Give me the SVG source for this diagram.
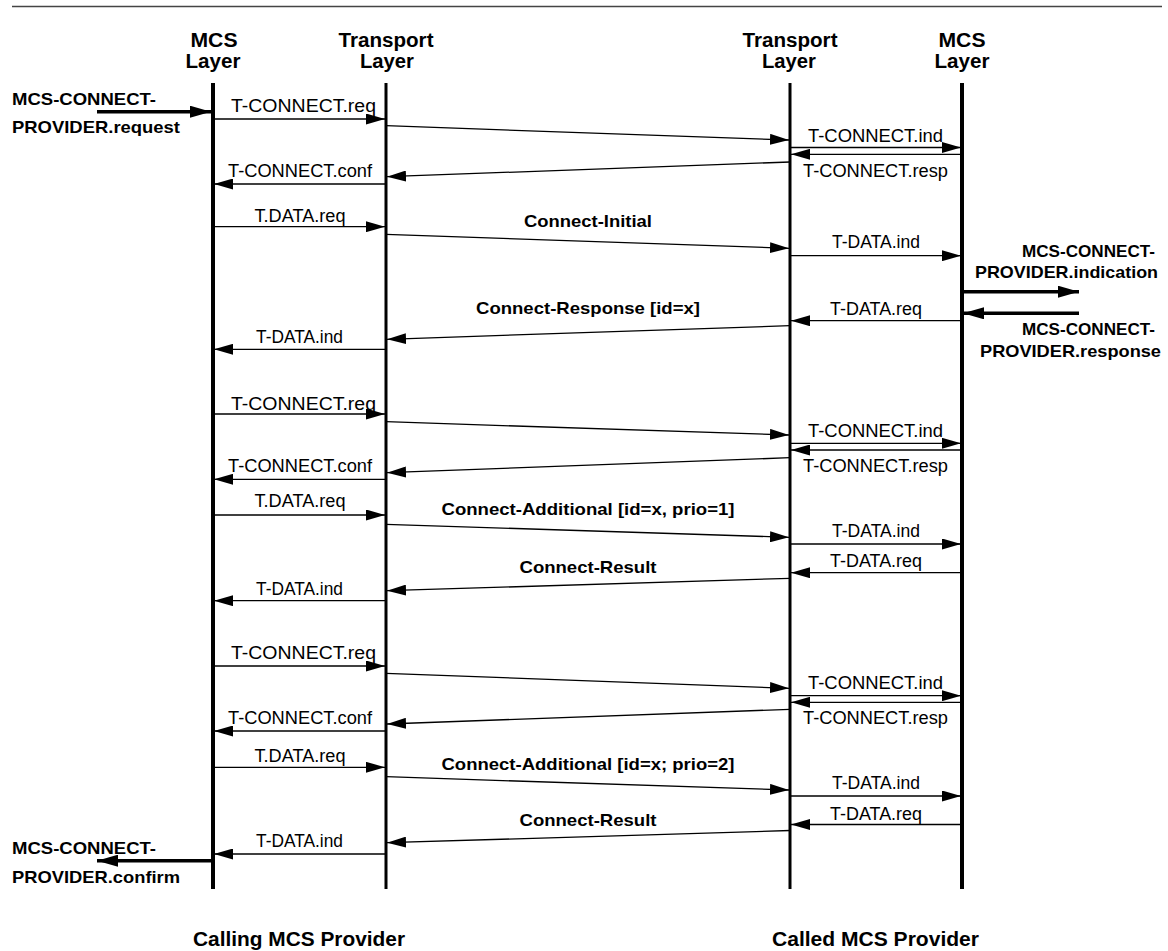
<svg xmlns="http://www.w3.org/2000/svg" width="1168" height="951" viewBox="0 0 1168 951">
<style>
text{font-family:"Liberation Sans",Arial,Helvetica,sans-serif;fill:#000}
.hd{font-size:20px;font-weight:bold;text-anchor:middle}
.lb{font-size:17.5px;text-anchor:middle}
.bm{font-size:17px;font-weight:bold;text-anchor:middle}
.sl{font-size:17px;font-weight:bold}
.sr{font-size:17px;font-weight:bold;text-anchor:end}
.cap{font-size:20px;font-weight:bold;text-anchor:middle}
.life{stroke:#000;fill:none}
.m{stroke:#000;stroke-width:1.3;fill:none;marker-end:url(#ah)}
.t{stroke:#000;stroke-width:3.5;fill:none;marker-end:url(#ahb)}
</style>
<defs>
<marker id="ah" markerUnits="userSpaceOnUse" markerWidth="19" markerHeight="11" refX="19" refY="5.5" orient="auto" viewBox="0 0 19 11"><path d="M0,0 L19,5.5 L0,11 Z" fill="#000"/></marker>
<marker id="ahb" markerUnits="userSpaceOnUse" markerWidth="21" markerHeight="12" refX="21" refY="6" orient="auto" viewBox="0 0 21 12"><path d="M0,0 L21,6 L0,12 Z" fill="#000"/></marker>
</defs>
<rect width="1168" height="951" fill="#fff"/>
<line x1="12" y1="6.5" x2="1162" y2="6.5" stroke="#444" stroke-width="1.6"/>

<g id="calling-mcs">
<text class="hd" x="214" y="47" textLength="47" lengthAdjust="spacingAndGlyphs">MCS</text>
<text class="hd" x="213" y="68" textLength="55" lengthAdjust="spacingAndGlyphs">Layer</text>
<line class="life" x1="213" y1="83" x2="213" y2="889" stroke-width="4"/>
</g>
<g id="calling-transport">
<text class="hd" x="386" y="47" textLength="95" lengthAdjust="spacingAndGlyphs">Transport</text>
<text class="hd" x="387" y="68" textLength="54" lengthAdjust="spacingAndGlyphs">Layer</text>
<line class="life" x1="386" y1="83" x2="386" y2="889" stroke-width="3"/>
</g>
<g id="called-transport">
<text class="hd" x="790" y="47" textLength="95" lengthAdjust="spacingAndGlyphs">Transport</text>
<text class="hd" x="789" y="68" textLength="54" lengthAdjust="spacingAndGlyphs">Layer</text>
<line class="life" x1="790" y1="83" x2="790" y2="889" stroke-width="3"/>
</g>
<g id="called-mcs">
<text class="hd" x="962" y="47" textLength="47" lengthAdjust="spacingAndGlyphs">MCS</text>
<text class="hd" x="962" y="68" textLength="55" lengthAdjust="spacingAndGlyphs">Layer</text>
<line class="life" x1="962" y1="83" x2="962" y2="889" stroke-width="4"/>
</g>

<g id="connectors">
<line class="t" x1="97" y1="111.7" x2="211" y2="111.7"/>
<line class="m" x1="213" y1="119" x2="385" y2="119"/>
<line class="m" x1="386" y1="125.7" x2="789" y2="140"/>
<line class="m" x1="790" y1="147.5" x2="961" y2="147.5"/>
<line class="m" x1="962" y1="154.3" x2="791" y2="154.3"/>
<line class="m" x1="790" y1="162" x2="387" y2="176.7"/>
<line class="m" x1="386" y1="184" x2="214" y2="184"/>
<line class="m" x1="213" y1="226.7" x2="385" y2="226.7"/>
<line class="m" x1="386" y1="234.3" x2="789" y2="248.3"/>
<line class="m" x1="790" y1="255.7" x2="961" y2="255.7"/>
<line class="t" x1="963" y1="291.7" x2="1079" y2="291.7"/>
<line class="t" x1="1079" y1="313.3" x2="963" y2="313.3"/>
<line class="m" x1="962" y1="320.7" x2="791" y2="320.7"/>
<line class="m" x1="790" y1="325.7" x2="387" y2="339.3"/>
<line class="m" x1="386" y1="349.3" x2="214" y2="349.3"/>
<line class="m" x1="213" y1="414" x2="385" y2="414"/>
<line class="m" x1="386" y1="421.7" x2="789" y2="435"/>
<line class="m" x1="790" y1="443.3" x2="961" y2="443.3"/>
<line class="m" x1="962" y1="450" x2="791" y2="450"/>
<line class="m" x1="790" y1="457.7" x2="387" y2="472.7"/>
<line class="m" x1="386" y1="479.3" x2="214" y2="479.3"/>
<line class="m" x1="213" y1="515" x2="385" y2="515"/>
<line class="m" x1="386" y1="524.3" x2="789" y2="537.3"/>
<line class="m" x1="790" y1="544" x2="961" y2="544"/>
<line class="m" x1="962" y1="572.7" x2="791" y2="572.7"/>
<line class="m" x1="790" y1="578.3" x2="387" y2="590.7"/>
<line class="m" x1="386" y1="600.7" x2="214" y2="600.7"/>
<line class="m" x1="213" y1="666" x2="385" y2="666"/>
<line class="m" x1="386" y1="673.3" x2="789" y2="688.3"/>
<line class="m" x1="790" y1="695.7" x2="961" y2="695.7"/>
<line class="m" x1="962" y1="702.3" x2="791" y2="702.3"/>
<line class="m" x1="790" y1="709.3" x2="387" y2="724"/>
<line class="m" x1="386" y1="731" x2="214" y2="731"/>
<line class="m" x1="213" y1="767.3" x2="385" y2="767.3"/>
<line class="m" x1="386" y1="776.7" x2="789" y2="790"/>
<line class="m" x1="790" y1="796" x2="961" y2="796"/>
<line class="m" x1="962" y1="824.5" x2="791" y2="824.5"/>
<line class="m" x1="790" y1="830.5" x2="387" y2="842.7"/>
<line class="m" x1="386" y1="854" x2="214" y2="854"/>
<line class="t" x1="211" y1="860.7" x2="97" y2="860.7"/>
</g>

<g id="labels">
<text class="sl" x="12" y="105" textLength="144" lengthAdjust="spacingAndGlyphs">MCS-CONNECT-</text>
<text class="sl" x="12" y="133" textLength="168" lengthAdjust="spacingAndGlyphs">PROVIDER.request</text>
<text class="sr" x="1155" y="256.7" textLength="133" lengthAdjust="spacingAndGlyphs">MCS-CONNECT-</text>
<text class="sr" x="1158" y="278.3" textLength="183" lengthAdjust="spacingAndGlyphs">PROVIDER.indication</text>
<text class="sr" x="1155" y="335" textLength="133" lengthAdjust="spacingAndGlyphs">MCS-CONNECT-</text>
<text class="sr" x="1161" y="356.7" textLength="181" lengthAdjust="spacingAndGlyphs">PROVIDER.response</text>
<text class="sl" x="12" y="854" textLength="144" lengthAdjust="spacingAndGlyphs">MCS-CONNECT-</text>
<text class="sl" x="12" y="882.7" textLength="168" lengthAdjust="spacingAndGlyphs">PROVIDER.confirm</text>

<text class="lb" x="303.5" y="112" textLength="145" lengthAdjust="spacingAndGlyphs">T-CONNECT.req</text>
<text class="lb" x="875.5" y="141.7" textLength="135" lengthAdjust="spacingAndGlyphs">T-CONNECT.ind</text>
<text class="lb" x="875.5" y="176.7" textLength="145" lengthAdjust="spacingAndGlyphs">T-CONNECT.resp</text>
<text class="lb" x="300" y="177" textLength="144" lengthAdjust="spacingAndGlyphs">T-CONNECT.conf</text>

<text class="lb" x="300" y="222" textLength="91" lengthAdjust="spacingAndGlyphs">T.DATA.req</text>
<text class="bm" x="588" y="226.7" textLength="128" lengthAdjust="spacingAndGlyphs">Connect-Initial</text>
<text class="lb" x="876" y="248" textLength="88" lengthAdjust="spacingAndGlyphs">T-DATA.ind</text>
<text class="lb" x="876" y="315" textLength="92" lengthAdjust="spacingAndGlyphs">T-DATA.req</text>
<text class="bm" x="588" y="314" textLength="224" lengthAdjust="spacingAndGlyphs">Connect-Response [id=x]</text>
<text class="lb" x="299.5" y="343.3" textLength="87" lengthAdjust="spacingAndGlyphs">T-DATA.ind</text>

<text class="lb" x="303.5" y="410" textLength="145" lengthAdjust="spacingAndGlyphs">T-CONNECT.req</text>
<text class="lb" x="875.5" y="436.7" textLength="135" lengthAdjust="spacingAndGlyphs">T-CONNECT.ind</text>
<text class="lb" x="875.5" y="471.7" textLength="145" lengthAdjust="spacingAndGlyphs">T-CONNECT.resp</text>
<text class="lb" x="300" y="471.7" textLength="144" lengthAdjust="spacingAndGlyphs">T-CONNECT.conf</text>
<text class="lb" x="300" y="506.7" textLength="91" lengthAdjust="spacingAndGlyphs">T.DATA.req</text>
<text class="bm" x="588" y="515" textLength="293" lengthAdjust="spacingAndGlyphs">Connect-Additional [id=x, prio=1]</text>
<text class="lb" x="876" y="536.7" textLength="88" lengthAdjust="spacingAndGlyphs">T-DATA.ind</text>
<text class="lb" x="876" y="566.7" textLength="92" lengthAdjust="spacingAndGlyphs">T-DATA.req</text>
<text class="bm" x="588" y="572.7" textLength="137" lengthAdjust="spacingAndGlyphs">Connect-Result</text>
<text class="lb" x="299.5" y="595" textLength="87" lengthAdjust="spacingAndGlyphs">T-DATA.ind</text>

<text class="lb" x="303.5" y="659.3" textLength="145" lengthAdjust="spacingAndGlyphs">T-CONNECT.req</text>
<text class="lb" x="875.5" y="689.3" textLength="135" lengthAdjust="spacingAndGlyphs">T-CONNECT.ind</text>
<text class="lb" x="875.5" y="724" textLength="145" lengthAdjust="spacingAndGlyphs">T-CONNECT.resp</text>
<text class="lb" x="300" y="724" textLength="144" lengthAdjust="spacingAndGlyphs">T-CONNECT.conf</text>
<text class="lb" x="300" y="761.7" textLength="91" lengthAdjust="spacingAndGlyphs">T.DATA.req</text>
<text class="bm" x="588" y="770" textLength="293" lengthAdjust="spacingAndGlyphs">Connect-Additional [id=x; prio=2]</text>
<text class="lb" x="876" y="789" textLength="88" lengthAdjust="spacingAndGlyphs">T-DATA.ind</text>
<text class="lb" x="876" y="820" textLength="92" lengthAdjust="spacingAndGlyphs">T-DATA.req</text>
<text class="bm" x="588" y="826" textLength="137" lengthAdjust="spacingAndGlyphs">Connect-Result</text>
<text class="lb" x="299.5" y="846.7" textLength="87" lengthAdjust="spacingAndGlyphs">T-DATA.ind</text>

<text class="cap" x="299" y="946" textLength="212" lengthAdjust="spacingAndGlyphs">Calling MCS Provider</text>
<text class="cap" x="875.5" y="946" textLength="207" lengthAdjust="spacingAndGlyphs">Called MCS Provider</text>
</g>
</svg>
